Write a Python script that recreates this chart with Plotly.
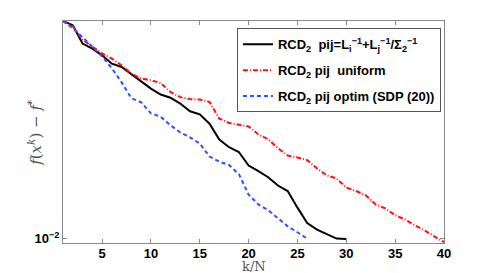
import plotly.graph_objects as go

k_black = list(range(1, 31))
y_black = [0.0742, 0.0713, 0.0603, 0.0575, 0.0541, 0.0501, 0.0486, 0.0454, 0.0423, 0.0398,
           0.0377, 0.0366, 0.0347, 0.0323, 0.0314, 0.0288, 0.0249, 0.0232, 0.0222, 0.0196,
           0.0186, 0.0176, 0.0163, 0.0155, 0.0133, 0.01154, 0.01086, 0.01043, 0.0100, 0.00996]

k_red = list(range(1, 41))
y_red = [0.0742, 0.0707, 0.0625, 0.0584, 0.0550, 0.0525, 0.0493, 0.0457, 0.0437, 0.0430,
         0.0419, 0.0386, 0.0368, 0.0361, 0.0360, 0.0352, 0.0302, 0.0290, 0.0286, 0.0281,
         0.0261, 0.0250, 0.0230, 0.0215, 0.0211, 0.0206, 0.0191, 0.0179, 0.0174, 0.0160,
         0.0155, 0.0149, 0.0137, 0.0132, 0.0124, 0.01194, 0.01130, 0.01079, 0.01021, 0.00969]

k_blue = list(range(1, 27))
y_blue = [0.0742, 0.0694, 0.0639, 0.0588, 0.0536, 0.0480, 0.0422, 0.0364, 0.0351, 0.0317,
          0.0307, 0.0284, 0.0266, 0.0254, 0.0240, 0.0213, 0.0203, 0.0197, 0.0181, 0.0150,
          0.0137, 0.0130, 0.01211, 0.01120, 0.01060, 0.0100]

x_ticks = [5, 10, 15, 20, 25, 30, 35, 40]
y_ticks = [0.01]
y_ticktext = ["10<sup>−2</sup>"]

names = [
    "RCD<sub>2</sub>  pij=L<sub>i</sub><sup>−1</sup>+L<sub>j</sub><sup>−1</sup>/Σ<sub>2</sub><sup>−1</sup>",
    "RCD<sub>2</sub> pij  uniform",
    "RCD<sub>2</sub> pij optim (SDP (20))",
]
x_title = "k/N"
y_title = "<i>f</i>(<i>x</i><sup><i>k</i></sup>) − <i>f</i><sup>*</sup>"

fig = go.Figure()
fig.add_trace(go.Scatter(x=k_black, y=y_black, mode="lines", name=names[0], legendgroup="a",
                         line=dict(color="black", width=2)))
fig.add_trace(go.Scatter(x=k_red, y=y_red, mode="lines", name=names[1], legendgroup="b",
                         line=dict(color="#ff1010", width=2, dash="5px,2px,1px,2px")))
fig.add_trace(go.Scatter(x=k_blue, y=y_blue, mode="lines", name=names[2], legendgroup="c",
                         line=dict(color="#2f50ff", width=2, dash="4px,3px")))

fig.update_layout(
    width=491, height=273,
    margin=dict(l=63, r=47, t=21, b=30),
    paper_bgcolor="white", plot_bgcolor="white",
    font=dict(family="Liberation Sans", size=13, color="black"),
    showlegend=True,
    legend=dict(x=0.992, y=0.967, xanchor="right", yanchor="top",
                bgcolor="white", bordercolor="#555", borderwidth=1,
                font=dict(family="Liberation Sans", size=13, color="black", weight="bold"),
                itemwidth=30, tracegroupgap=6),
    xaxis=dict(range=[1, 40], tickvals=x_ticks, ticks="inside", ticklen=4, automargin=False,
               tickcolor="#888", linecolor="#888", linewidth=1, mirror="ticks",
               showgrid=False, zeroline=False, ticklabelstandoff=-2,
               tickfont=dict(family="Liberation Sans", size=13, color="black", weight="bold")),
    yaxis=dict(type="log", range=[-2.0176, -1.1296], tickvals=y_ticks, ticktext=y_ticktext,
               ticks="inside", ticklen=4, tickcolor="#888", linecolor="#888", linewidth=1,
               mirror="ticks", showgrid=False, zeroline=False, automargin=False,
               tickfont=dict(family="Liberation Sans", size=13, color="black", weight="bold")),
    annotations=[
        dict(text=x_title, xref="paper", yref="paper", x=0.5, y=-0.106,
             xanchor="center", yanchor="middle", showarrow=False,
             font=dict(family="DejaVu Serif", size=13, color="#555")),
        dict(text=y_title, xref="paper", yref="paper", x=-0.074, y=0.5, textangle=-90,
             xanchor="center", yanchor="middle", showarrow=False,
             font=dict(family="DejaVu Serif", size=15, color="#555")),
    ],
)

fig.write_html("out.html", config={"displayModeBar": False},
               post_script="document.body.style.margin='0';document.body.style.overflow='hidden';")
